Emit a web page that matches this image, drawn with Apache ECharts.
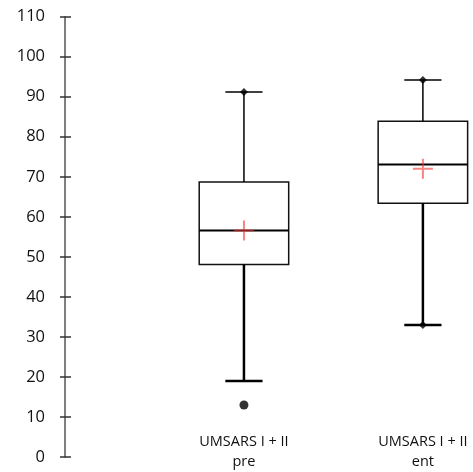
<!DOCTYPE html>
<html>
<head>
<meta charset="utf-8">
<script src="https://cdn.jsdelivr.net/npm/echarts@6/dist/echarts.min.js"></script>
<style>
  html, body { margin: 0; padding: 0; background: #fff; }
  #chart { width: 473px; height: 472px; }
</style>
</head>
<body>
<div id="chart"></div>
<script>
// box plot values
const categories = ["UMSARS I + II\npre", "UMSARS I + II\nent"];
const positions = [1, 2];
const whiskerLow = [19, 33];
const q1 = [48.1, 63.4];
const median = [56.6, 73.1];
const q3 = [68.7, 83.9];
const whiskerHigh = [91.2, 94.2];
const means = [56.6, 72];
// min / max markers on whisker ends, and the single outlier
const extremes = [[1, 91.2], [2, 94.2], [2, 33]];
const outliers = [[1, 13]];
const yTicks = [0, 110, 10]; // min, max, interval

const boxData = positions.map((x, i) => [x, whiskerLow[i], q1[i], median[i], q3[i], whiskerHigh[i]]);
const meanData = positions.map((x, i) => [x, means[i]]);

let myEchart = echarts.init(document.getElementById("chart"));

const renderBox = (params, api) => {
  let x = api.value(0);
  let low = api.coord([x, api.value(1)]);
  let p1 = api.coord([x, api.value(2)]);
  let med = api.coord([x, api.value(3)]);
  let p3 = api.coord([x, api.value(4)]);
  let high = api.coord([x, api.value(5)]);
  let unit = api.size([1, 0])[0];
  let half = unit * 0.25;
  let cap = unit * 0.104;
  let cx = low[0];
  let line = (x1, y1, x2, y2, w) => ({
    type: "line",
    shape: { x1, y1, x2, y2 },
    style: { stroke: "#000", lineWidth: w }
  });
  return {
    type: "group",
    children: [
      {
        type: "rect",
        shape: { x: cx - half, y: p3[1], width: half * 2, height: p1[1] - p3[1] },
        style: { fill: "none", stroke: "#111", lineWidth: 1.5 }
      },
      line(cx - half, med[1], cx + half, med[1], 2),
      line(cx, p3[1], cx, high[1], 1.5),
      line(cx, p1[1], cx, low[1], 2.5),
      line(cx - cap, high[1], cx + cap, high[1], 1.5),
      line(cx - cap, low[1], cx + cap, low[1], 2.5)
    ]
  };
};

let options = {
  animation: false,
  grid: { left: 65, right: 0, top: 16.7, bottom: 11.3 },
  xAxis: {
    type: "value",
    min: 0,
    max: 2.28,
    interval: 1,
    offset: -30,
    axisLine: { show: false },
    axisTick: { show: false },
    splitLine: { show: false },
    axisLabel: {
      margin: 5,
      color: "#111",
      fontFamily: "Open Sans",
      fontSize: 14.5,
      lineHeight: 20,
      showMaxLabel: false,
      formatter: (v) => {
        let i = positions.indexOf(v);
        return i >= 0 ? categories[i] : "";
      }
    }
  },
  yAxis: [
    {
      type: "value",
      min: yTicks[0],
      max: yTicks[1],
      interval: yTicks[2],
      axisLine: { show: true, lineStyle: { color: "#555", width: 1.5 } },
      axisTick: { show: true, length: 5, lineStyle: { color: "#333", width: 1.5 } },
      splitLine: { show: false },
      axisLabel: { margin: 20, color: "#111", fontFamily: "Open Sans", fontSize: 16.5 }
    },
    {
      type: "value",
      position: "left",
      min: yTicks[0],
      max: yTicks[1],
      interval: yTicks[2],
      axisLine: { show: false },
      axisTick: { show: true, inside: true, length: 6, lineStyle: { color: "#333", width: 1.5 } },
      splitLine: { show: false },
      axisLabel: { show: false }
    }
  ],
  series: [
    {
      type: "custom",
      renderItem: renderBox,
      data: boxData,
      encode: { x: 0, y: [1, 2, 3, 4, 5] },
      z: 2
    },
    {
      type: "scatter",
      data: meanData,
      symbol: "path://M9,0h2v9h9v2h-9v9h-2v-9h-9v-2h9z",
      symbolSize: 20,
      itemStyle: { color: "rgba(240,50,50,0.75)" },
      z: 4
    },
    {
      type: "scatter",
      data: extremes,
      symbol: "diamond",
      symbolSize: 8,
      itemStyle: { color: "#000" },
      z: 3
    },
    {
      type: "scatter",
      data: outliers,
      symbol: "circle",
      symbolSize: 9,
      itemStyle: { color: "#000" },
      z: 3
    }
  ]
};

myEchart.setOption(options);
</script>
</body>
</html>
